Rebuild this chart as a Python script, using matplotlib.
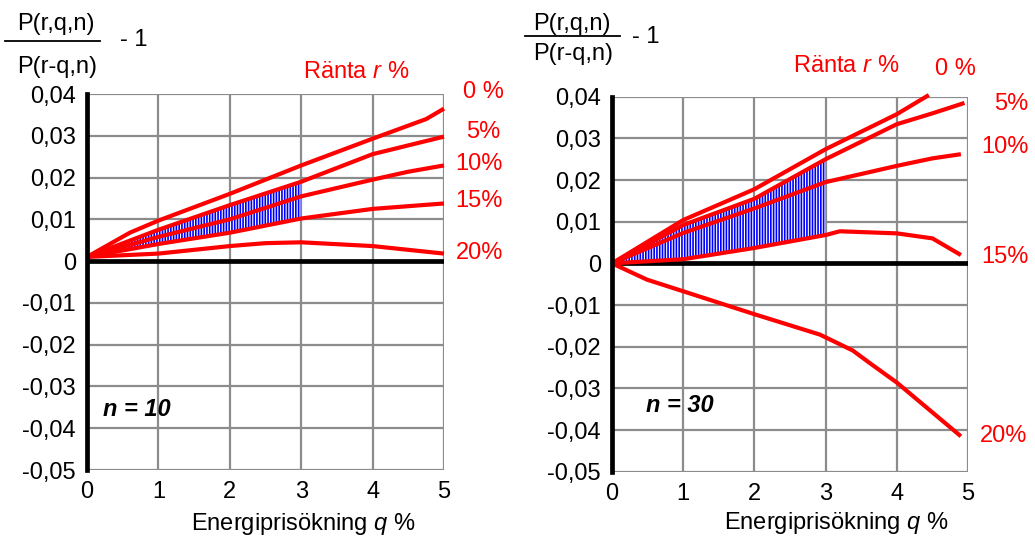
import matplotlib
matplotlib.use("Agg")
import matplotlib.pyplot as plt
from matplotlib.lines import Line2D
import numpy as np

plt.rcParams['font.family'] = ['Liberation Sans', 'DejaVu Sans']
plt.rcParams['mathtext.fontset'] = 'custom'
plt.rcParams['mathtext.rm'] = 'Liberation Sans'
plt.rcParams['mathtext.it'] = 'Liberation Sans:italic'
plt.rcParams['hatch.linewidth'] = 1.2

# ---------------- data ----------------
x_ticks = [0, 1, 2, 3, 4, 5]
y_ticks = [-0.05, -0.04, -0.03, -0.02, -0.01, 0, 0.01, 0.02, 0.03, 0.04]
y_tick_labels = ["-0,05", "-0,04", "-0,03", "-0,02", "-0,01", "0", "0,01", "0,02", "0,03", "0,04"]
rate_labels = ["0 %", "5%", "10%", "15%", "20%"]

# n = 10
n10_q = {
    "0":  [0, 0.6, 1, 2, 3, 4, 4.75, 5],
    "5":  [0, 1, 2, 3, 4, 5],
    "10": [0, 1, 2, 3, 4, 4.5, 5],
    "15": [0, 1, 2, 3, 4, 5],
    "20": [0, 1, 2, 2.5, 3, 4, 5],
}
n10_v = {
    "0":  [0.001, 0.0068, 0.0097, 0.0161, 0.0229, 0.0293, 0.0340, 0.0365],
    "5":  [0.001, 0.0075, 0.0134, 0.0190, 0.0256, 0.0298],
    "10": [0.001, 0.0058, 0.0100, 0.0155, 0.0195, 0.0214, 0.0229],
    "15": [0.001, 0.0041, 0.0068, 0.0102, 0.0125, 0.0138],
    "20": [0.001, 0.0018, 0.0036, 0.0043, 0.0045, 0.0036, 0.0018],
}

# n = 30
n30_q = {
    "0":  [0, 1, 2, 3, 4, 4.45],
    "5":  [0, 1, 2, 3, 4, 4.5, 4.95],
    "10": [0, 1, 2, 3, 4, 4.5, 4.9],
    "15": [0, 1, 1.3, 2, 3, 3.2, 4, 4.5, 4.9],
    "20": [0, 0.49, 1, 2, 2.92, 3.38, 3.65, 4, 4.9],
}
n30_v = {
    "0":  [0, 0.0104, 0.0178, 0.0274, 0.0358, 0.0404],
    "5":  [0, 0.0092, 0.0155, 0.0250, 0.0334, 0.0360, 0.0385],
    "10": [0, 0.0073, 0.0132, 0.0195, 0.0234, 0.0252, 0.0262],
    "15": [0, 0.0010, 0.0018, 0.0037, 0.0068, 0.0077, 0.0072, 0.0060, 0.0020],
    "20": [0, -0.0039, -0.0067, -0.0122, -0.0171, -0.0209, -0.0243, -0.0286, -0.0415],
}

# ---------------- figure ----------------
W, H = 1035, 542
fig = plt.figure(figsize=(W / 100, H / 100), dpi=100)
fig.patch.set_facecolor("white")


def px(x, y):
    return (x / W, 1 - y / H)


RED = "#ff0000"
GRID = "#8c8c8c"
FS = 17


def make_panel(rect, qs, vs, n_label, n_pos, xlabel_pos, frac_pos, ranta_pos, label_pos):
    ax = fig.add_axes(rect)
    ax.set_xlim(0, 5)
    ax.set_ylim(-0.05, 0.04)
    ax.set_xticks(x_ticks)
    ax.set_xticklabels([str(t) for t in x_ticks])
    ax.set_yticks(y_ticks)
    ax.set_yticklabels(y_tick_labels)
    ax.tick_params(length=0, labelsize=FS, pad=8)
    ax.grid(True, color=GRID, linewidth=1.6)
    ax.set_axisbelow(True)
    for s in ["top", "right", "bottom"]:
        ax.spines[s].set_visible(False)
    ax.spines["left"].set_linewidth(3.4)
    ax.spines["left"].set_color("black")
    ax.spines["left"].set_zorder(5)
    ax.axhline(0, color="black", linewidth=3.4, zorder=3)

    # hatched region between 5% and 15% curves up to q = 3
    qq = np.linspace(0, 3, 61)
    up = np.interp(qq, qs["5"], vs["5"])
    lo = np.interp(qq, qs["15"], vs["15"])
    ax.fill_between(qq, lo, up, facecolor="white", edgecolor="#0000ff",
                    hatch="||||||", linewidth=0, zorder=2)

    for key in ["0", "5", "10", "15", "20"]:
        ax.plot(qs[key], vs[key], color=RED, linewidth=3.0, zorder=4,
                clip_on=False, solid_capstyle="butt")

    fig.text(*n_pos, n_label, fontsize=FS, fontweight="bold", style="italic",
             ha="center", va="center")
    fig.text(*xlabel_pos, "Energiprisökning $\\mathit{q}$ %", fontsize=FS,
             ha="center", va="center")
    # fraction label
    (nx, ny), (dx, dy), (lx0, lx1, ly), (mx, my) = frac_pos
    fig.text(*px(nx, ny), "P(r,q,n)", fontsize=FS, ha="center", va="center")
    fig.text(*px(dx, dy), "P(r-q,n)", fontsize=FS, ha="center", va="center")
    fig.add_artist(Line2D([lx0 / W, lx1 / W], [1 - ly / H, 1 - ly / H],
                          color="black", linewidth=1.3, transform=fig.transFigure))
    fig.text(*px(mx, my), "- 1", fontsize=FS, ha="center", va="center")
    fig.text(*px(*ranta_pos), "Ränta $\\mathit{r}$ %", fontsize=FS, color=RED,
             ha="center", va="center")
    for lab, pos in zip(rate_labels, label_pos):
        fig.text(*px(*pos), lab, fontsize=FS, color=RED, ha="center", va="center")
    return ax


# left panel (n = 10)
make_panel([87 / W, 1 - 470 / H, 357 / W, 376 / H], n10_q, n10_v, "n = 10",
           px(137, 409), px(303, 524),
           ((56, 24), (57, 67), (5, 100, 41), (134, 40)),
           (356, 72),
           [(483, 92), (483, 132), (479, 164), (479, 201), (480, 253)])

# right panel (n = 30)
make_panel([612 / W, 1 - 471.7 / H, 356 / W, 375 / H], n30_q, n30_v, "n = 30",
           px(680, 405), px(836, 523),
           ((572, 24), (573, 54), (525, 620, 36), (646, 37)),
           (846, 66),
           [(955, 69), (1011, 104), (1005, 147), (1005, 257), (1004, 436)])

fig.savefig("out.png", dpi=100, facecolor="white")
